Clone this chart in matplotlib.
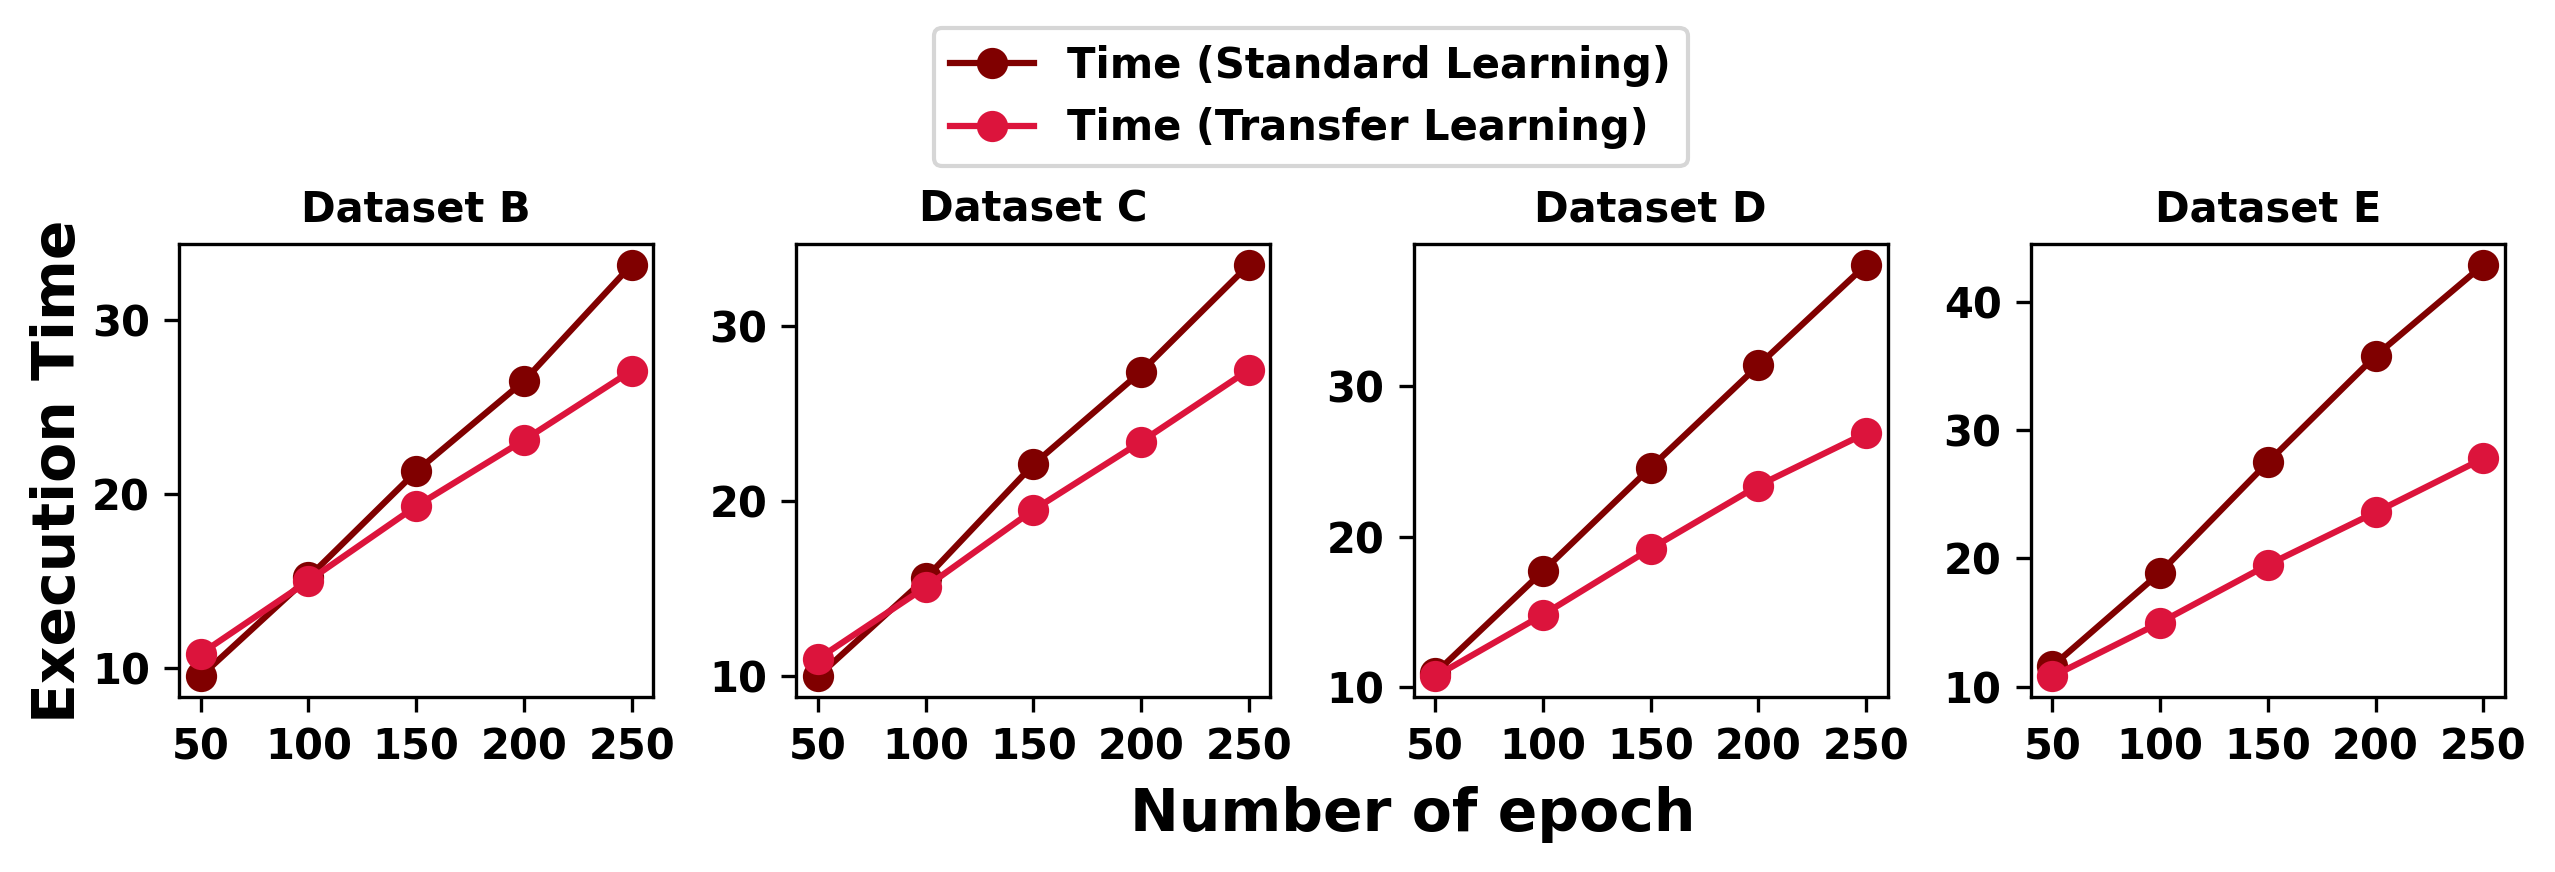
import matplotlib
matplotlib.use("Agg")
import matplotlib.pyplot as plt

epochs = [50, 100, 150, 200, 250]
datasets = ["Dataset B", "Dataset C", "Dataset D", "Dataset E"]

standard_time = [
    [9.5, 15.2, 21.3, 26.5, 33.2],
    [10.0, 15.6, 22.1, 27.4, 33.5],
    [10.9, 17.7, 24.6, 31.4, 38.1],
    [11.6, 18.9, 27.5, 35.8, 42.9],
]
transfer_time = [
    [10.8, 15.0, 19.3, 23.1, 27.1],
    [11.0, 15.1, 19.5, 23.4, 27.5],
    [10.7, 14.8, 19.2, 23.4, 26.9],
    [10.8, 15.0, 19.5, 23.6, 27.8],
]

fig, axes = plt.subplots(1, 4, figsize=(2555 / 300, 872 / 300), dpi=300)
fig.subplots_adjust(left=0.0701, right=0.9804, top=0.720, bottom=0.2007, wspace=0.302)

for i, ax in enumerate(axes):
    ax.plot(epochs, standard_time[i], marker="o", color="#800000", lw=1.5, ms=6.5,
            label="Time (Standard Learning)")
    ax.plot(epochs, transfer_time[i], marker="o", color="#DC143C", lw=1.5, ms=6.5,
            label="Time (Transfer Learning)")
    ax.set_title(datasets[i], fontsize=10, fontweight="bold", pad=5.5)
    ax.set_xticks(epochs)
    for lab in ax.get_xticklabels() + ax.get_yticklabels():
        lab.set_fontweight("bold")
        lab.set_fontsize(10)

handles, labels = axes[0].get_legend_handles_labels()
fig.legend(handles, labels, loc="upper center", bbox_to_anchor=(0.513, 0.968),
           borderaxespad=0, prop={"weight": "bold", "size": 10}, ncol=1)

fig.text(0.553, 0.066, "Number of epoch", ha="center", va="center",
         fontsize=14, fontweight="bold")
fig.text(0.023, 0.46, "Execution Time", ha="center", va="center",
         rotation=90, fontsize=14, fontweight="bold")

fig.savefig("out.png", dpi=300)
